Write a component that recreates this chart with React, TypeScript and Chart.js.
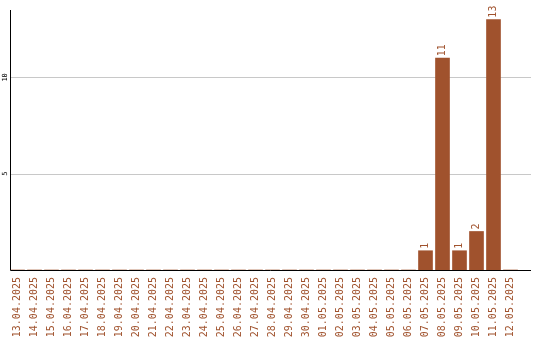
import React, { useEffect, useRef } from "react";
import { Chart, registerables } from "chart.js";

Chart.register(...registerables);

// Daily counts, 13.04.2025 – 12.05.2025
const dates = [
  "13.04.2025", "14.04.2025", "15.04.2025", "16.04.2025", "17.04.2025",
  "18.04.2025", "19.04.2025", "20.04.2025", "21.04.2025", "22.04.2025",
  "23.04.2025", "24.04.2025", "25.04.2025", "26.04.2025", "27.04.2025",
  "28.04.2025", "29.04.2025", "30.04.2025", "01.05.2025", "02.05.2025",
  "03.05.2025", "04.05.2025", "05.05.2025", "06.05.2025", "07.05.2025",
  "08.05.2025", "09.05.2025", "10.05.2025", "11.05.2025", "12.05.2025",
];
const counts = [
  0, 0, 0, 0, 0, 0, 0, 0, 0, 0,
  0, 0, 0, 0, 0, 0, 0, 0, 0, 0,
  0, 0, 0, 0, 1, 11, 1, 2, 13, 0,
];
const yTicks = [5, 10];
const yMax = 13.5;

const BROWN = "#a0522d";
const GRID = "#c8c8c8";
const MONO = "'DejaVu Sans Mono', 'Liberation Mono', monospace";

// Horizontal grid lines and the two axis lines, stretched to the right edge
const axesPlugin = {
  id: "axesLines",
  beforeDatasetsDraw(chart: any) {
    const { ctx, chartArea, scales } = chart;
    const right = 531;
    ctx.save();
    ctx.strokeStyle = GRID;
    ctx.lineWidth = 1;
    for (const v of yTicks) {
      const y = Math.round(scales.y.getPixelForValue(v)) + 0.5;
      ctx.beginPath();
      ctx.moveTo(chartArea.left + 2, y);
      ctx.lineTo(right, y);
      ctx.stroke();
    }
    ctx.restore();
  },
  afterDatasetsDraw(chart: any) {
    const { ctx, chartArea, scales } = chart;
    const right = 531;
    const x0 = chartArea.left + 1.5;
    const yBase = Math.round(scales.y.getPixelForValue(0)) + 0.5;
    ctx.save();
    ctx.strokeStyle = "#000";
    ctx.lineWidth = 1;
    ctx.beginPath();
    ctx.moveTo(x0, chartArea.top);
    ctx.lineTo(x0, yBase);
    ctx.lineTo(right, yBase);
    ctx.stroke();

    // value labels above the bars, rotated
    const meta = chart.getDatasetMeta(0);
    ctx.fillStyle = BROWN;
    ctx.font = `10px ${MONO}`;
    ctx.textAlign = "left";
    ctx.textBaseline = "middle";
    meta.data.forEach((bar: any, i: number) => {
      const v = counts[i];
      if (!v) return;
      ctx.save();
      ctx.translate(bar.x, bar.y - 2);
      ctx.rotate(-Math.PI / 2);
      ctx.fillText(String(v), 0, 0);
      ctx.restore();
    });
    ctx.restore();
  },
};

export default function App() {
  const ref = useRef<HTMLCanvasElement>(null);

  useEffect(() => {
    document.body.style.margin = "0";
    const chart = new Chart(ref.current!, {
      type: "bar",
      data: {
        labels: dates,
        datasets: [
          {
            data: counts,
            backgroundColor: BROWN,
            borderWidth: 0,
            barThickness: 14,
          },
        ],
      },
      options: {
        animation: false,
        responsive: false,
        events: [],
        layout: { padding: { top: 10, right: 21, left: 0, bottom: 0 } },
        plugins: { legend: { display: false }, tooltip: { enabled: false } },
        scales: {
          x: {
            grid: { display: false, drawTicks: false },
            border: { display: false },
            ticks: {
              autoSkip: false,
              minRotation: 90,
              maxRotation: 90,
              padding: 7,
              color: BROWN,
              font: { family: MONO, size: 10 },
            },
            afterFit(scale: any) {
              scale.height = 70;
            },
          },
          y: {
            min: 0,
            max: yMax,
            grid: { display: false, drawTicks: false },
            border: { display: false },
            ticks: {
              minRotation: 90,
              maxRotation: 90,
              padding: 0,
              crossAlign: "center",
              color: "#000",
              font: { family: MONO, size: 7 },
            },
            afterBuildTicks(scale: any) {
              scale.ticks = yTicks.map((v) => ({ value: v }));
            },
            afterFit(scale: any) {
              scale.width = 9;
            },
          },
        },
      },
      plugins: [axesPlugin],
    });
    return () => chart.destroy();
  }, []);

  return (
    <div style={{ width: 540, height: 340 }}>
      <canvas ref={ref} width={540} height={340} />
    </div>
  );
}
